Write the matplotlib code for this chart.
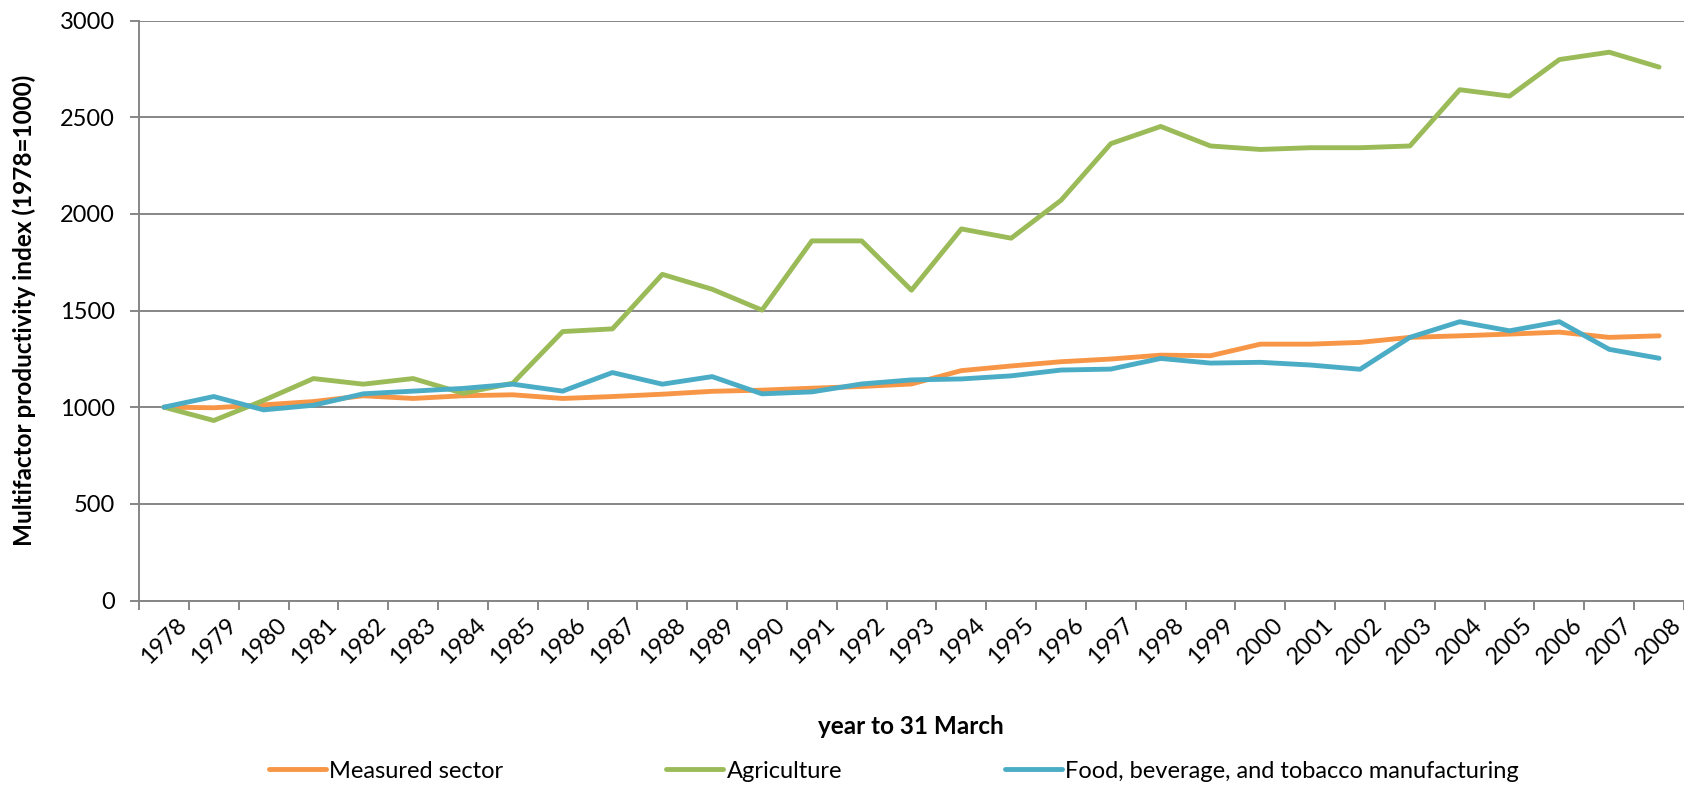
import numpy as np
import matplotlib
matplotlib.use('Agg')
from matplotlib import pyplot as plt

plt.rcParams['font.family'] = ['Lato', 'DejaVu Sans']

years = ['1978', '1979', '1980', '1981', '1982', '1983', '1984', '1985', '1986', '1987',
         '1988', '1989', '1990', '1991', '1992', '1993', '1994', '1995', '1996', '1997',
         '1998', '1999', '2000', '2001', '2002', '2003', '2004', '2005', '2006', '2007', '2008']

measured_sector = [1000, 997, 1012, 1029, 1059, 1045, 1059, 1064, 1045, 1055,
                   1067, 1082, 1088, 1098, 1107, 1120, 1189, 1213, 1235, 1249,
                   1269, 1266, 1326, 1326, 1335, 1361, 1369, 1378, 1388, 1361, 1369]

agriculture = [1000, 931, 1035, 1148, 1119, 1148, 1072, 1124, 1391, 1405,
               1687, 1610, 1502, 1860, 1860, 1605, 1922, 1874, 2070, 2363,
               2452, 2351, 2333, 2342, 2342, 2351, 2642, 2609, 2798, 2836, 2759]

food_bev_tobacco = [1000, 1055, 986, 1010, 1069, 1083, 1097, 1119, 1083, 1179,
                    1119, 1158, 1069, 1079, 1120, 1141, 1146, 1162, 1192, 1197,
                    1252, 1228, 1232, 1218, 1196, 1361, 1442, 1395, 1442, 1299, 1253]

series = [
    ('Measured sector', measured_sector, '#F79646'),
    ('Agriculture', agriculture, '#9BBB59'),
    ('Food, beverage, and tobacco manufacturing', food_bev_tobacco, '#4BACC6'),
]

grid_col = '#868686'

fig = plt.figure(figsize=(16.84, 7.93), dpi=100)
ax = fig.add_axes([139 / 1684, 1 - 600.5 / 793, 1 - 139 / 1684, (600.5 - 20.5) / 793])

x = np.arange(len(years)) + 0.5
for name, vals, col in series:
    ax.plot(x, vals, color=col, lw=3.5, label=name, solid_joinstyle='round',
            solid_capstyle='round', zorder=3)

ax.set_xlim(0, len(years))
ax.set_ylim(0, 3000)
ax.set_yticks(np.arange(0, 3001, 500))
ax.yaxis.grid(True, color=grid_col, lw=1.4)
ax.set_axisbelow(True)

ax.set_xticks(x)
ax.set_xticklabels(years, rotation=45, ha='center', va='top', fontsize=17)
ax.set_xticks(np.arange(0, len(years) + 1), minor=True)
ax.tick_params(axis='x', which='major', length=0, pad=10)
ax.tick_params(axis='x', which='minor', length=6.3, width=1.4, color=grid_col)
ax.tick_params(axis='y', length=6.3, width=1.4, color=grid_col, pad=11, labelsize=17)

for s in ['top', 'right']:
    ax.spines[s].set_visible(False)
for s in ['left', 'bottom']:
    ax.spines[s].set_color(grid_col)
    ax.spines[s].set_linewidth(1.4)

fig.text(24 / 1684, 1 - 310 / 793, 'Multifactor productivity index (1978=1000)',
         rotation=90, ha='center', va='center', fontsize=17.5, fontweight='bold')
fig.text(911 / 1684, 1 - 726 / 793, 'year to 31 March', ha='center', va='center',
         fontsize=17.5, fontweight='bold')

fig.legend(loc='center', bbox_to_anchor=(894 / 1684, 1 - 771 / 793), ncol=3,
           frameon=False, fontsize=17, handlelength=2.4, handletextpad=0.15,
           columnspacing=6.9)

fig.savefig('out.png', dpi=100)
